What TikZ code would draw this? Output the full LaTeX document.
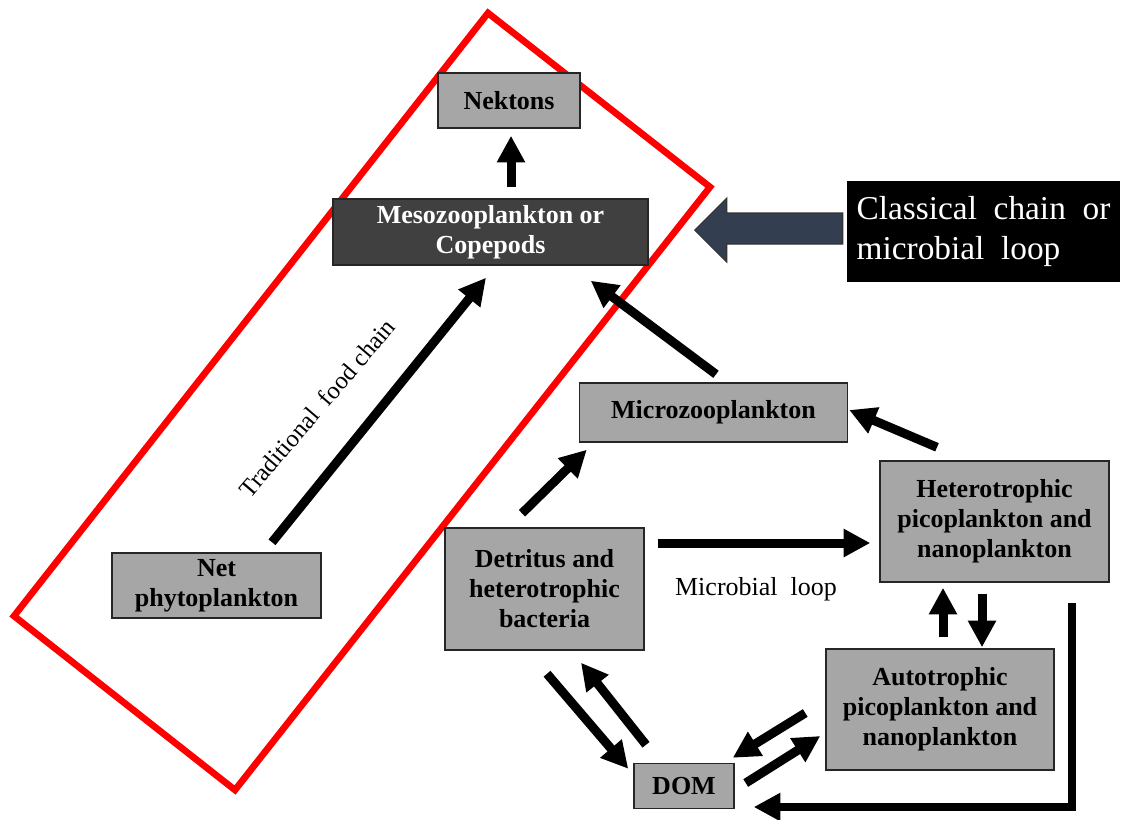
\documentclass[tikz,border=0pt]{standalone}
\usepackage{fontspec}
\setmainfont{Liberation Serif}
\usetikzlibrary{arrows.meta}
\definecolor{boxgray}{HTML}{A6A6A6}
\definecolor{mesogray}{HTML}{404040}
\definecolor{slateblue}{HTML}{333F50}
\begin{document}
\begin{tikzpicture}[x=0.75pt,y=-0.75pt,
  box/.style={draw=black!85, line width=1.1pt, fill=boxgray,
    font=\fontsize{19.5}{22.5}\selectfont\bfseries, align=center, inner sep=0pt},
  arr/.style={line width=6.75pt, -{Triangle[length=20pt,width=20pt]}},
  lbl/.style={font=\fontsize{19.5}{22.5}\selectfont}]
\useasboundingbox (0,0) rectangle (1134,819);

% red frame
\draw[red, line width=5pt] (488,13) -- (710,187) -- (235,790) -- (14,616) -- cycle;

% nodes
\node[box, minimum width=106.5pt, minimum height=41.25pt] (nek) at (509,100.5) {Nektons};
\node[box, fill=mesogray, text=white, minimum width=236.25pt, minimum height=49.5pt] (meso) at (490.5,232) {Mesozooplankton or\\Copepods};
\node[box, minimum width=156.75pt, minimum height=48.75pt] (net) at (216.5,585.5) {Net\\phytoplankton};
\node[box, minimum width=201pt, minimum height=44.25pt] (micro) at (713.5,412.5) {Microzooplankton};
\node[box, minimum width=149.25pt, minimum height=91.5pt] (det) at (544.5,589) {Detritus and\\heterotrophic\\bacteria};
\node[box, minimum width=171.75pt, minimum height=90.75pt] (het) at (994.5,521.5) {Heterotrophic\\picoplankton and\\nanoplankton};
\node[box, minimum width=171pt, minimum height=90.75pt] (aut) at (940,709.5) {Autotrophic\\picoplankton and\\nanoplankton};
\node[box, minimum width=75pt, minimum height=33.75pt] (dom) at (684,786) {DOM};
\node[fill=black, text=white, minimum width=204.75pt, minimum height=75.75pt, align=left,
  font=\fontsize{25}{30}\selectfont, inner sep=0pt] (cls) at (983.5,231.5) {Classical\ \ chain\ \ or\\microbial\ \ loop};

% labels
\node[lbl, font=\fontsize{18.5}{22}\selectfont, rotate=49.5] (trad) at (317,408) {Traditional\ \ food chain};
\node[lbl] (ml) at (756,589) {Microbial\ \ loop};

% connectors
\draw[arr] ([shift={(20.5,-11)}]meso.north) -- ([shift={(2,7)}]nek.south);
\draw[arr] ([shift={(55.5,-10)}]net.north) -- ([shift={(-4.5,12)}]meso.south);
\draw[arr] ([shift={(2.5,-8)}]micro.north) -- ([shift={(-58,15)}]meso.south east);
\draw[arr] ([shift={(-22.5,-14)}]det.north) -- ([shift={(8,7)}]micro.south west);
\draw[arr] ([shift={(13,-46)}]det.east) -- ([shift={(-9,21.5)}]het.west);
\draw[arr] ([shift={(-57.5,-13)}]het.north) -- ([shift={(1,-2.5)}]micro.east);
\draw[arr] ([shift={(3,-11)}]aut.north) -- ([shift={(-51.5,5)}]het.south);
\draw[arr] ([shift={(-12.5,11)}]het.south) -- ([shift={(42,-1)}]aut.north);
\draw[arr, line width=6pt] ([shift={(-38,20)}]het.south east) |- ([shift={(19,21)}]dom.east);
\draw[arr] ([shift={(2.5,23)}]det.south) -- ([shift={(-5,6)}]dom.north west);
\draw[arr] ([shift={(-38,-18)}]dom.north) -- ([shift={(36.5,12)}]det.south);
\draw[arr] ([shift={(-20,3.5)}]aut.west) -- ([shift={(-2,-5)}]dom.north east);
\draw[arr] ([shift={(11,-3)}]dom.east) -- ([shift={(-5,26.5)}]aut.west);

% big pointer arrow
\draw[fill=slateblue, draw=black!80, line width=0.8pt]
  ([shift={(-4,-18.5)}]cls.west) -- ([shift={(-120,-18.5)}]cls.west)
  -- ([shift={(-120,-33.5)}]cls.west) -- ([shift={(-152,-1.5)}]cls.west)
  -- ([shift={(-120,30.5)}]cls.west) -- ([shift={(-120,12.5)}]cls.west)
  -- ([shift={(-4,12.5)}]cls.west) -- cycle;
\end{tikzpicture}
\end{document}
